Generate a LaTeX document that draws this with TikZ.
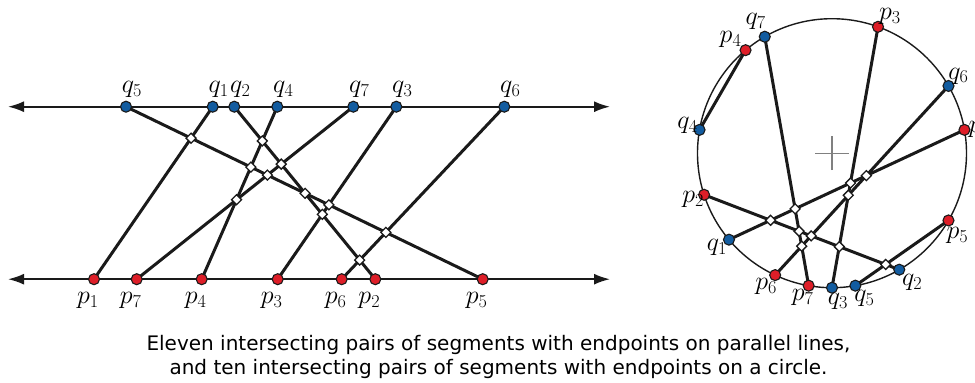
\RequirePackage{fix-cm}
\documentclass[tikz,border=0pt]{standalone}
\usepackage{fontspec}
\newfontfamily\capfont{DejaVu Sans}
\usetikzlibrary{arrows.meta,shapes.geometric,calc}
\definecolor{qblue}{RGB}{18,92,160}
\definecolor{pred}{RGB}{222,30,40}
\definecolor{ink}{RGB}{26,26,26}
\pgfdeclarelayer{bg}\pgfsetlayers{bg,main}
\tikzset{
  pt/.style={circle, draw=ink, line width=1.1pt, minimum size=11pt, inner sep=0pt},
  qpt/.style={pt, fill=qblue},
  ppt/.style={pt, fill=pred},
  dia/.style={diamond, draw=ink, fill=white, line width=1.3pt, minimum size=10.5pt, inner sep=0pt},
  seg/.style={line width=3pt, draw=ink},
  axisline/.style={line width=1.9pt, draw=ink, {Latex[length=16pt,width=11pt]}-{Latex[length=16pt,width=11pt]}},
  rim/.style={line width=1.4pt, draw=ink},
  crossline/.style={line width=1.3pt, draw=black!50},
  lab/.style={inner sep=0pt, font=\fontsize{26}{30}\selectfont},
}
\begin{document}
\begin{tikzpicture}[x=1pt,y=-1pt]
\useasboundingbox (0,0) rectangle (975,383);
% ---------- parallel lines ----------
\coordinate (tl) at (8,106.7);
\coordinate (tr) at (610,106.7);
\coordinate (bl) at (8,279.2);
\coordinate (br) at (610,279.2);
\begin{pgfonlayer}{bg}
\draw[axisline] (tl) -- (tr);
\draw[axisline] (bl) -- (br);
\end{pgfonlayer}
\foreach \n/\x in {5/126,1/212.7,2/234.3,4/277.3,7/353.3,3/396.3,6/504.3}{
  \node[qpt] (q\n) at (\x,106.7) {};
  \node[lab] (lq\n) at ($(q\n)+(6,-17.5)$) {$q_{\n}$};
}
\foreach \n/\x in {1/94,7/136.7,4/201.7,3/277.7,6/341.7,2/375.3,5/482.7}{
  \node[ppt] (p\n) at (\x,279.2) {};
  \node[lab] (lp\n) at ($(p\n)+(-6,21)$) {$p_{\n}$};
}
\begin{pgfonlayer}{bg}
\foreach \n in {1,...,7}{ \draw[seg] (p\n.center) -- (q\n.center); }
\end{pgfonlayer}
\node[dia] (x51) at (intersection of p5--q5 and p1--q1) {};
\node[dia] (x52) at (intersection of p5--q5 and p2--q2) {};
\node[dia] (x53) at (intersection of p5--q5 and p3--q3) {};
\node[dia] (x54) at (intersection of p5--q5 and p4--q4) {};
\node[dia] (x56) at (intersection of p5--q5 and p6--q6) {};
\node[dia] (x57) at (intersection of p5--q5 and p7--q7) {};
\node[dia] (x23) at (intersection of p2--q2 and p3--q3) {};
\node[dia] (x24) at (intersection of p2--q2 and p4--q4) {};
\node[dia] (x26) at (intersection of p2--q2 and p6--q6) {};
\node[dia] (x27) at (intersection of p2--q2 and p7--q7) {};
\node[dia] (x47) at (intersection of p4--q4 and p7--q7) {};
% ---------- circle ----------
\begin{scope}[shift={(832pt,-153.2pt)}, x=1pt, y=1pt]
\node[circle, rim, minimum size=269pt, inner sep=0pt] (ring) at (0,0) {};
\draw[crossline] (-17,0) -- (17,0) (0,-17) -- (0,17);
\foreach \n/\a in {1/10,2/198,3/70,4/130,5/330,6/245,7/260}{
  \node[ppt] (cp\n) at (\a:134.5) {};
}
\foreach \n/\a in {1/220,2/300,3/270,4/170,5/280,6/30,7/120}{
  \node[qpt] (cq\n) at (\a:134.5) {};
}
\end{scope}
\begin{pgfonlayer}{bg}
\foreach \n in {1,...,7}{ \draw[seg] (cp\n.center) -- (cq\n.center); }
\end{pgfonlayer}
\node[dia] (cx12) at (intersection of cp1--cq1 and cp2--cq2) {};
\node[dia] (cx13) at (intersection of cp1--cq1 and cp3--cq3) {};
\node[dia] (cx16) at (intersection of cp1--cq1 and cp6--cq6) {};
\node[dia] (cx17) at (intersection of cp1--cq1 and cp7--cq7) {};
\node[dia] (cx23) at (intersection of cp2--cq2 and cp3--cq3) {};
\node[dia] (cx25) at (intersection of cp2--cq2 and cp5--cq5) {};
\node[dia] (cx26) at (intersection of cp2--cq2 and cp6--cq6) {};
\node[dia] (cx27) at (intersection of cp2--cq2 and cp7--cq7) {};
\node[dia] (cx36) at (intersection of cp3--cq3 and cp6--cq6) {};
\node[dia] (cx67) at (intersection of cp6--cq6 and cp7--cq7) {};
\node[lab] (lcq7) at ($(cq7)+(-9,-15)$) {$q_7$};
\node[lab] (lcp4) at ($(cp4)+(-15,-11)$) {$p_4$};
\node[lab] (lcp3) at ($(cp3)+(12,-10)$) {$p_3$};
\node[lab] (lcq6) at ($(cq6)+(10,-10)$) {$q_6$};
\node[lab] (lcp1) at ($(cp1)+(15,0)$) {$p_1$};
\node[lab] (lcq4) at ($(cq4)+(-12,-4)$) {$q_4$};
\node[lab] (lcp2) at ($(cp2)+(-11,5)$) {$p_2$};
\node[lab] (lcq1) at ($(cq1)+(-12,8)$) {$q_1$};
\node[lab] (lcp6) at ($(cp6)+(-9,11)$) {$p_6$};
\node[lab] (lcp7) at ($(cp7)+(-6,12)$) {$p_7$};
\node[lab] (lcq3) at ($(cq3)+(6,14)$) {$q_3$};
\node[lab] (lcq5) at ($(cq5)+(9,13)$) {$q_5$};
\node[lab] (lcq2) at ($(cq2)+(13,13)$) {$q_2$};
\node[lab] (lcp5) at ($(cp5)+(9,15)$) {$p_5$};
% ---------- caption ----------
\node[align=center, inner sep=0pt, font=\capfont\fontsize{20}{24}\selectfont] (cap) at (498.5,357)
  {Eleven intersecting pairs of segments with endpoints on parallel lines,\\
   and ten intersecting pairs of segments with endpoints on a circle.};
\end{tikzpicture}
\end{document}
